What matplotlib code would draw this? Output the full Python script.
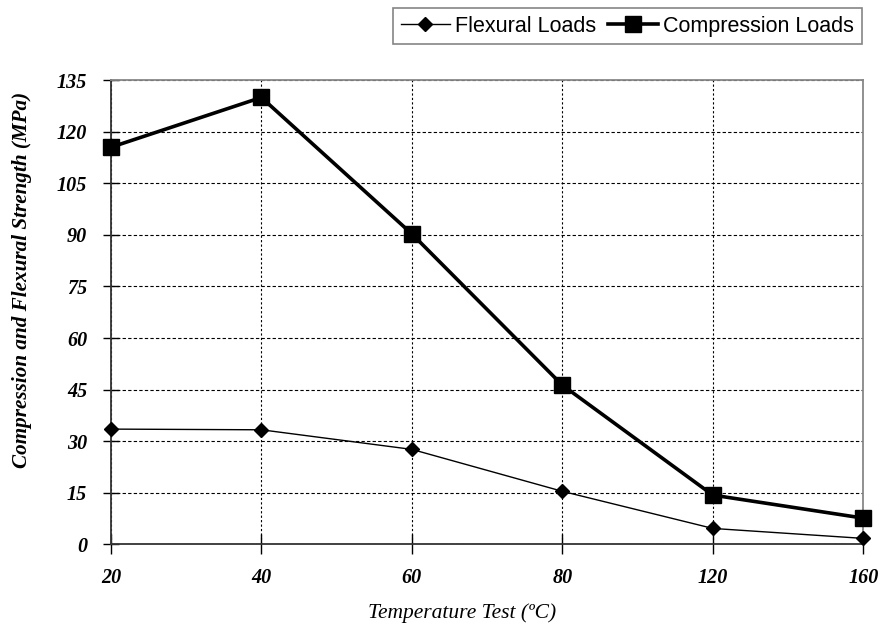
import matplotlib.pyplot as plt
import numpy as np

temps = ["20", "40", "60", "80", "120", "160"]
flexural = [33.5, 33.3, 27.6, 15.4, 4.6, 1.7]
compression = [115.5, 130.0, 90.3, 46.3, 14.3, 7.6]
y_ticks = [0, 15, 30, 45, 60, 75, 90, 105, 120, 135]

fig = plt.figure(figsize=(8.8, 6.27), dpi=100)
ax = fig.add_axes([0.126, 0.132, 0.855, 0.740])

x = np.arange(len(temps))
l1, = ax.plot(x, flexural, color="black", lw=1.0, marker="D", markersize=7.5,
              label="Flexural Loads", clip_on=False, zorder=5)
l2, = ax.plot(x, compression, color="black", lw=2.6, marker="s", markersize=11.5,
              label="Compression Loads", clip_on=False, zorder=6)

ax.set_xlim(0, len(temps) - 1)
ax.set_ylim(0, 135)
ax.set_xticks(x)
ax.set_xticklabels(temps)
ax.set_yticks(y_ticks)

serif = "Liberation Serif"
for lab in ax.get_xticklabels() + ax.get_yticklabels():
    lab.set_family(serif)
    lab.set_style("italic")
    lab.set_weight("bold")
    lab.set_fontsize(14.5)

ax.tick_params(axis="y", direction="inout", length=12, width=1, color="black", pad=11)
ax.tick_params(axis="x", direction="inout", length=14, width=1, color="black", pad=10)

ax.grid(axis="y", color="black", linestyle=(0, (3, 2)), linewidth=0.8)
ax.grid(axis="x", color="black", linestyle=(0, (2, 2)), linewidth=0.8)
ax.set_axisbelow(True)

for side in ["left", "bottom"]:
    ax.spines[side].set_color("#333333")
    ax.spines[side].set_linewidth(1.3)
for side in ["top", "right"]:
    ax.spines[side].set_color("#888888")
    ax.spines[side].set_linewidth(1.3)

ax.set_ylabel("Compression and Flexural Strength (MPa)", family=serif, style="italic",
              weight="bold", fontsize=15.2)
ax.yaxis.label.set_va("center")
ax.yaxis.set_label_coords(-0.118, 0.569)
ax.set_xlabel("Temperature Test (ºC)", family=serif, style="italic", fontsize=15.5)
ax.xaxis.label.set_va("center")
ax.xaxis.set_label_coords(0.467, -0.149)

leg = fig.legend(handles=[l1, l2], loc="upper left", bbox_to_anchor=(0.4466, 0.987),
                 ncol=2, frameon=True, fancybox=False, edgecolor="#666666",
                 prop={"family": "Liberation Sans", "size": 15.5},
                 handlelength=2.3, handletextpad=0.25, columnspacing=0.55,
                 borderpad=0.35, borderaxespad=0)
leg.get_frame().set_linewidth(1.2)

plt.savefig("out.png", dpi=100)
